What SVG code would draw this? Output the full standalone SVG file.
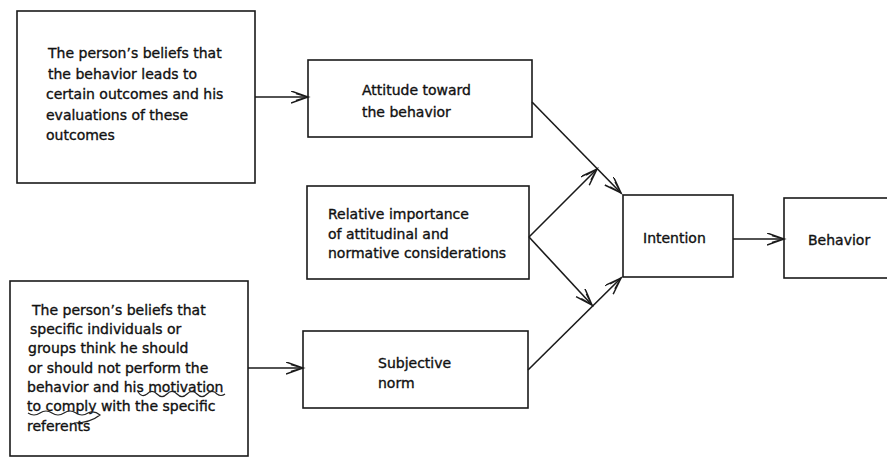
<svg xmlns="http://www.w3.org/2000/svg" width="887" height="458" viewBox="0 0 887 458">
  <style>
    .box { fill: #ffffff; stroke: #1a1a1a; stroke-width: 1.6; }
    .lbl { font-family: "DejaVu Sans", "Liberation Sans", sans-serif; font-size: 14px; fill: #111111; stroke: #111111; stroke-width: 0.35; }
    .conn { stroke: #1a1a1a; stroke-width: 1.6; fill: none; }
    .pen { stroke: #222222; stroke-width: 1.2; fill: none; }
  </style>
  <defs>
    <marker id="arr" markerUnits="userSpaceOnUse" markerWidth="20" markerHeight="14" refX="17" refY="6" orient="auto">
      <path d="M0,0 L17,6 L0,12 M5,2.5 L17,6 L5,9.5" fill="none" stroke="#1a1a1a" stroke-width="1.5"/>
    </marker>
  </defs>
  <rect x="0" y="0" width="887" height="458" fill="#ffffff"/>

  <g id="beliefs-outcomes">
    <rect class="box" x="17" y="11" width="238" height="172"/>
    <text class="lbl" x="48" y="58">The person’s beliefs that</text>
    <text class="lbl" x="48" y="78.5">the behavior leads to</text>
    <text class="lbl" x="46" y="99">certain outcomes and his</text>
    <text class="lbl" x="46" y="119.5">evaluations of these</text>
    <text class="lbl" x="46" y="140">outcomes</text>
  </g>

  <g id="beliefs-referents">
    <rect class="box" x="10" y="281" width="238" height="175"/>
    <text class="lbl" x="32" y="314.5">The person’s beliefs that</text>
    <text class="lbl" x="30" y="333.5">specific individuals or</text>
    <text class="lbl" x="28" y="353">groups think he should</text>
    <text class="lbl" x="28" y="372.5">or should not perform the</text>
    <text class="lbl" x="27" y="392">behavior and his motivation</text>
    <text class="lbl" x="27" y="411">to comply with the specific</text>
    <text class="lbl" x="27" y="430.5">referents</text>
    <path class="pen" d="M138,392 q4,6 9,2 q5,-5 10,0 q5,5 10,0 q5,-5 10,0 q5,5 10,0 q5,-5 10,0 q5,5 10,0 q5,-5 10,0 q4,3 8,0"/>
    <path class="pen" d="M28,413 q6,4 12,0 q6,-4 12,0 q6,4 12,0 q6,-4 12,0 q6,4 12,0 q6,-3 12,2 q-10,8 -26,8"/>
  </g>

  <g id="attitude">
    <rect class="box" x="308" y="60" width="224" height="77"/>
    <text class="lbl" x="362" y="95">Attitude toward</text>
    <text class="lbl" x="362" y="116.5">the behavior</text>
  </g>

  <g id="relative-importance">
    <rect class="box" x="307" y="186" width="222" height="93"/>
    <text class="lbl" x="328" y="219">Relative importance</text>
    <text class="lbl" x="328" y="238.5">of attitudinal and</text>
    <text class="lbl" x="328" y="258">normative considerations</text>
  </g>

  <g id="subjective-norm">
    <rect class="box" x="303" y="331" width="225" height="77"/>
    <text class="lbl" x="378" y="368">Subjective</text>
    <text class="lbl" x="378" y="388">norm</text>
  </g>

  <g id="intention">
    <rect class="box" x="623" y="195" width="110" height="82"/>
    <text class="lbl" x="643" y="243">Intention</text>
  </g>

  <g id="behavior">
    <rect class="box" x="784" y="198" width="110" height="80"/>
    <text class="lbl" x="808" y="245">Behavior</text>
  </g>

  <g id="connectors">
    <line class="conn" x1="255" y1="97" x2="308" y2="97" marker-end="url(#arr)"/>
    <line class="conn" x1="248" y1="368" x2="303" y2="368" marker-end="url(#arr)"/>
    <line class="conn" x1="733" y1="239" x2="784" y2="239" marker-end="url(#arr)"/>
    <line class="conn" x1="532" y1="102" x2="621" y2="193" marker-end="url(#arr)"/>
    <line class="conn" x1="529" y1="237" x2="597" y2="169" marker-end="url(#arr)"/>
    <line class="conn" x1="529" y1="237" x2="592" y2="305" marker-end="url(#arr)"/>
    <line class="conn" x1="528" y1="370" x2="621" y2="278" marker-end="url(#arr)"/>
  </g>
</svg>
